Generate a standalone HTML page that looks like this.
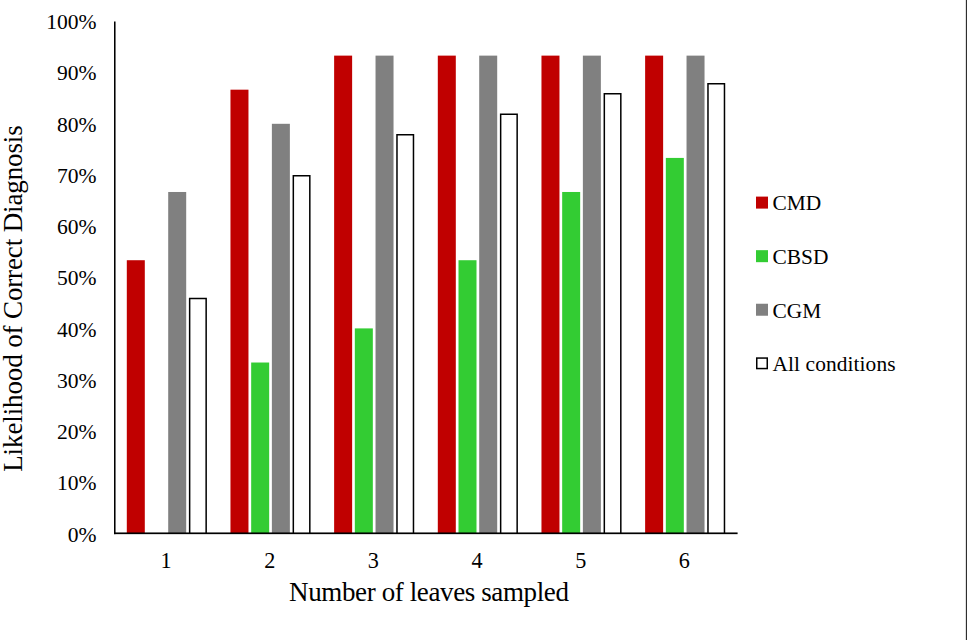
<!DOCTYPE html>
<html><head><meta charset="utf-8"><style>
html,body{margin:0;padding:0;background:#fff;}
body{width:967px;height:640px;overflow:hidden;position:relative;}
svg{position:absolute;left:0;top:0;}
text{font-family:"Liberation Serif",serif;fill:#000;}
</style></head><body>
<svg width="967" height="640" viewBox="0 0 967 640">
<rect x="0" y="0" width="967" height="640" fill="#fff"/>
<rect x="126.80" y="260.22" width="18.00" height="272.78" fill="#C00000"/>
<rect x="168.20" y="191.98" width="18.00" height="341.02" fill="#808080"/>
<path d="M189.65,533.00 V298.46 H206.15 V533.00" fill="#fff" stroke="#000" stroke-width="1.5"/>
<rect x="230.47" y="89.68" width="18.00" height="443.32" fill="#C00000"/>
<rect x="251.17" y="362.52" width="18.00" height="170.48" fill="#33CC33"/>
<rect x="271.87" y="123.80" width="18.00" height="409.20" fill="#808080"/>
<path d="M293.32,533.00 V175.70 H309.82 V533.00" fill="#fff" stroke="#000" stroke-width="1.5"/>
<rect x="334.13" y="55.62" width="18.00" height="477.38" fill="#C00000"/>
<rect x="354.83" y="328.40" width="18.00" height="204.60" fill="#33CC33"/>
<rect x="375.53" y="55.62" width="18.00" height="477.38" fill="#808080"/>
<path d="M396.98,533.00 V134.78 H413.48 V533.00" fill="#fff" stroke="#000" stroke-width="1.5"/>
<rect x="437.80" y="55.62" width="18.00" height="477.38" fill="#C00000"/>
<rect x="458.50" y="260.22" width="18.00" height="272.78" fill="#33CC33"/>
<rect x="479.20" y="55.62" width="18.00" height="477.38" fill="#808080"/>
<path d="M500.65,533.00 V114.32 H517.15 V533.00" fill="#fff" stroke="#000" stroke-width="1.5"/>
<rect x="541.47" y="55.62" width="18.00" height="477.38" fill="#C00000"/>
<rect x="562.17" y="191.98" width="18.00" height="341.02" fill="#33CC33"/>
<rect x="582.87" y="55.62" width="18.00" height="477.38" fill="#808080"/>
<path d="M604.32,533.00 V93.86 H620.82 V533.00" fill="#fff" stroke="#000" stroke-width="1.5"/>
<rect x="645.13" y="55.62" width="18.00" height="477.38" fill="#C00000"/>
<rect x="665.83" y="157.92" width="18.00" height="375.08" fill="#33CC33"/>
<rect x="686.53" y="55.62" width="18.00" height="477.38" fill="#808080"/>
<path d="M707.98,533.00 V83.63 H724.48 V533.00" fill="#fff" stroke="#000" stroke-width="1.5"/>
<rect x="114.00" y="21.50" width="1.55" height="512.65" fill="#000"/>
<rect x="114.00" y="532.45" width="623.60" height="1.7" fill="#000"/>
<rect x="756" y="196.60" width="12" height="12" fill="#C00000"/>
<rect x="756" y="250.17" width="12" height="12" fill="#33CC33"/>
<rect x="756" y="303.74" width="12" height="12" fill="#808080"/>
<rect x="756.75" y="358.06" width="10.5" height="10.5" fill="#fff" stroke="#000" stroke-width="1.5"/>
<text x="96.6" y="541.54" text-anchor="end" font-size="21.6">0%</text>
<text x="96.6" y="490.31" text-anchor="end" font-size="21.6">10%</text>
<text x="96.6" y="439.08" text-anchor="end" font-size="21.6">20%</text>
<text x="96.6" y="387.85" text-anchor="end" font-size="21.6">30%</text>
<text x="96.6" y="336.62" text-anchor="end" font-size="21.6">40%</text>
<text x="96.6" y="285.39" text-anchor="end" font-size="21.6">50%</text>
<text x="96.6" y="234.16" text-anchor="end" font-size="21.6">60%</text>
<text x="96.6" y="182.93" text-anchor="end" font-size="21.6">70%</text>
<text x="96.6" y="131.70" text-anchor="end" font-size="21.6">80%</text>
<text x="96.6" y="80.47" text-anchor="end" font-size="21.6">90%</text>
<text x="96.6" y="29.24" text-anchor="end" font-size="21.6">100%</text>
<text x="166.03" y="567.9" text-anchor="middle" font-size="22.2">1</text>
<text x="269.70" y="567.9" text-anchor="middle" font-size="22.2">2</text>
<text x="373.37" y="567.9" text-anchor="middle" font-size="22.2">3</text>
<text x="477.03" y="567.9" text-anchor="middle" font-size="22.2">4</text>
<text x="580.70" y="567.9" text-anchor="middle" font-size="22.2">5</text>
<text x="684.37" y="567.9" text-anchor="middle" font-size="22.2">6</text>
<text x="429.0" y="601.1" text-anchor="middle" font-size="27" textLength="279.8">Number of leaves sampled</text>
<text transform="translate(21.6,298.5) rotate(-90)" text-anchor="middle" font-size="27" textLength="346.5">Likelihood of Correct Diagnosis</text>
<text x="772.5" y="210.38" font-size="21.4">CMD</text>
<text x="772.5" y="263.95" font-size="21.4">CBSD</text>
<text x="772.5" y="317.52" font-size="21.4">CGM</text>
<text x="772.5" y="371.09" font-size="21.4" textLength="123">All conditions</text>
<rect x="965.85" y="0" width="1.15" height="640" fill="#2e2e2e"/>
</svg>
</body></html>
